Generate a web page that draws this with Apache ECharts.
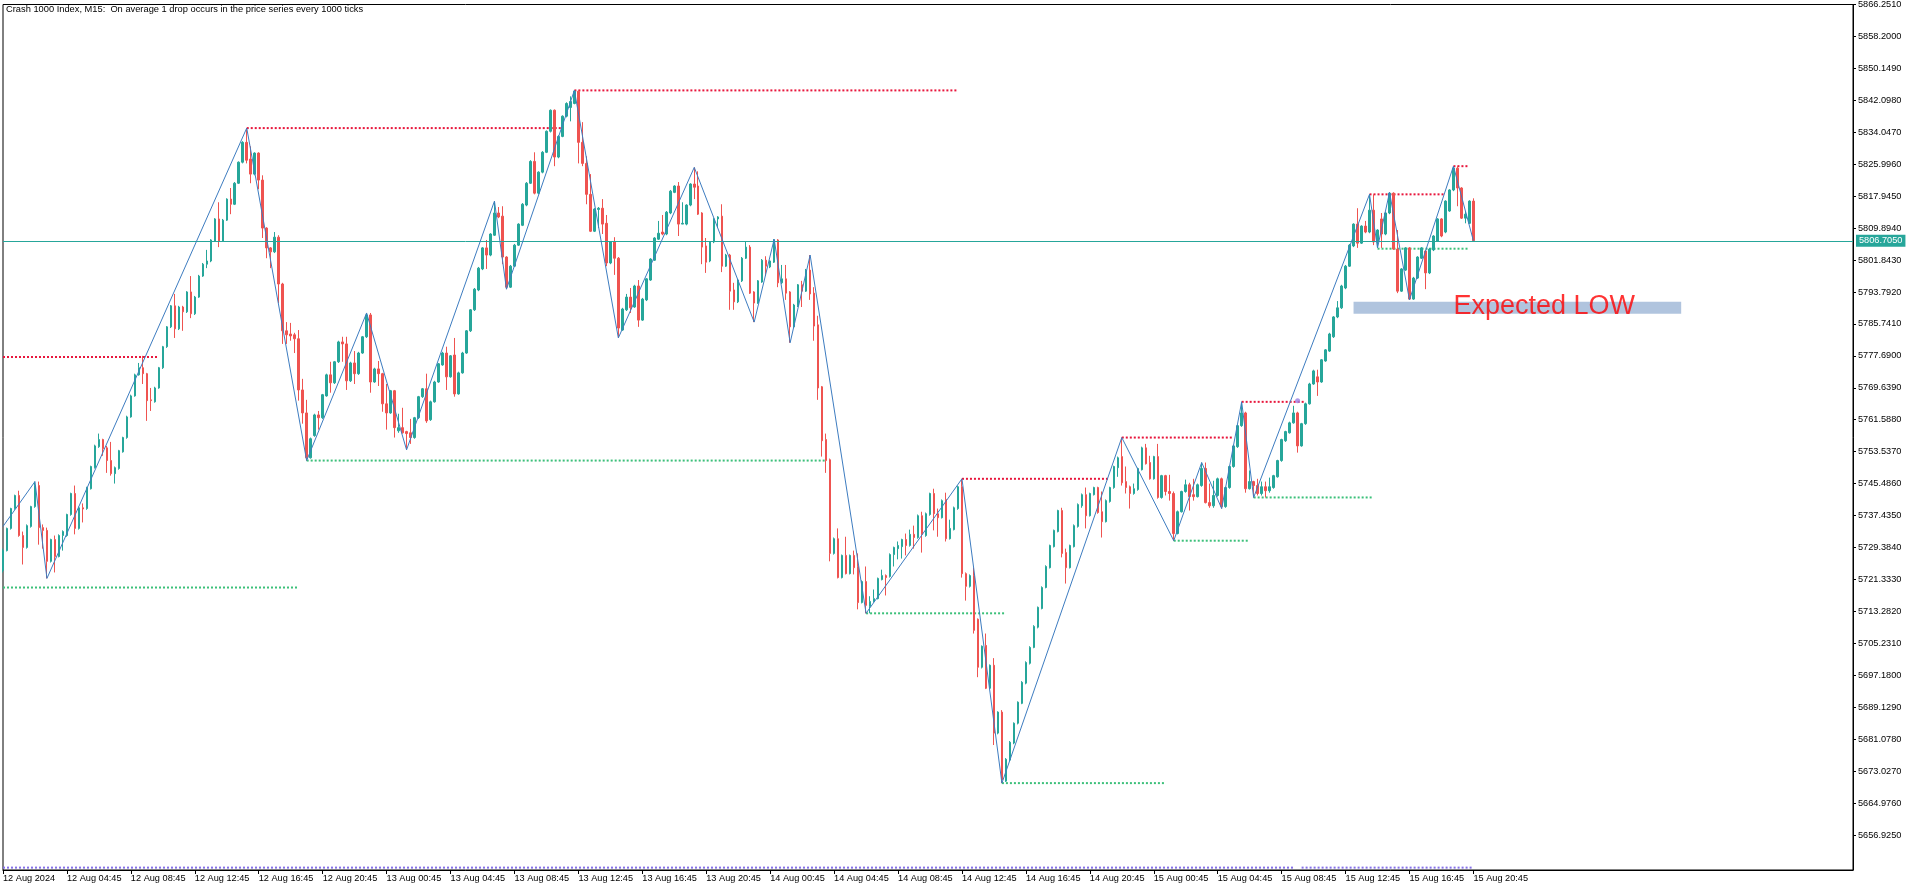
<!DOCTYPE html>
<html><head><meta charset="utf-8">
<script src="https://cdn.jsdelivr.net/npm/echarts@6/dist/echarts.min.js"></script>
<style>html,body{margin:0;padding:0;background:#fff}#c{width:1916px;height:888px}</style>
</head><body><div id="c"></div>
<script>
const chartTitle = 'Crash 1000 Index, M15:  On average 1 drop occurs in the price series every 1000 ticks';
const timeLabels = ['12 Aug 2024','12 Aug 04:45','12 Aug 08:45','12 Aug 12:45','12 Aug 16:45','12 Aug 20:45','13 Aug 00:45','13 Aug 04:45','13 Aug 08:45','13 Aug 12:45','13 Aug 16:45','13 Aug 20:45','14 Aug 00:45','14 Aug 04:45','14 Aug 08:45','14 Aug 12:45','14 Aug 16:45','14 Aug 20:45','15 Aug 00:45','15 Aug 04:45','15 Aug 08:45','15 Aug 12:45','15 Aug 16:45','15 Aug 20:45'];
const priceTicks = [5866.2510,5858.2000,5850.1490,5842.0980,5834.0470,5825.9960,5817.9450,5809.8940,5801.8430,5793.7920,5785.7410,5777.6900,5769.6390,5761.5880,5753.5370,5745.4860,5737.4350,5729.3840,5721.3330,5713.2820,5705.2310,5697.1800,5689.1290,5681.0780,5673.0270,5664.9760,5656.9250];

// candles [open, close, low, high], M15 bars from 12 Aug 00:45
const aug12 = [
[5723.6,5728.6,5723.1,5729.1],[5728.6,5734.2,5728.4,5734.4],[5734.2,5739.2,5733.9,5739.4],[5739.2,5742.5,5738.9,5742.7],[5742.5,5732.4,5732.1,5743.7],
[5732.4,5729.4,5725.1,5733.4],[5729.4,5734.9,5729.1,5735.2],[5734.7,5739.7,5734.4,5739.9],[5739.7,5745.0,5739.4,5746.0],[5745.0,5734.4,5730.1,5746.0],
[5734.4,5733.7,5729.1,5735.2],[5733.7,5725.9,5721.6,5734.4],[5725.9,5731.4,5725.6,5731.6],[5731.4,5727.1,5723.1,5732.4],[5727.1,5732.4,5726.9,5732.7],
[5732.4,5733.4,5728.6,5733.7],[5732.4,5737.7,5732.1,5737.9],[5737.7,5743.0,5737.4,5743.2],[5743.0,5734.2,5732.7,5745.0],[5734.2,5739.4,5733.9,5739.7],
[5739.4,5739.1,5735.7,5740.5],[5739.2,5744.5,5738.9,5744.7],[5744.2,5749.8,5744.0,5750.0],[5749.5,5755.0,5749.3,5755.3],[5754.8,5756.6,5754.5,5758.1],
[5756.6,5754.3,5752.5,5756.8],[5754.5,5751.3,5748.2,5755.0],[5751.3,5748.0,5747.5,5756.0],[5748.0,5749.5,5745.5,5749.8],[5749.3,5753.8,5749.0,5754.0],
[5753.5,5757.1,5753.3,5757.3],[5757.1,5762.3,5756.8,5762.6],[5762.3,5767.6,5762.1,5767.9],[5767.6,5772.9,5767.4,5773.2],[5772.9,5774.7,5772.7,5775.9],
[5774.7,5773.2,5770.6,5777.7],[5773.2,5766.4,5761.3,5773.4],[5766.6,5766.4,5763.8,5769.6],[5766.1,5769.6,5765.9,5769.9],[5769.6,5774.7,5769.4,5774.9],
[5774.7,5780.0,5774.4,5780.2],[5780.0,5785.0,5779.7,5785.2],[5785.0,5790.3,5784.7,5790.5],[5790.3,5784.5,5782.2,5793.3],[5784.5,5790.0,5784.2,5790.3],
[5790.0,5788.8,5784.0,5790.3],[5788.8,5793.8,5788.5,5794.0],[5793.8,5788.3,5787.2,5797.8],[5788.3,5792.5,5788.0,5792.8],[5792.5,5797.8,5792.3,5798.1],
[5797.8,5800.8,5797.6,5801.1],[5800.8,5801.6,5799.8,5804.4],[5801.6,5806.9,5801.3,5807.1],[5806.6,5812.2,5806.4,5812.4],[5812.2,5806.6,5805.1,5816.4],
[5806.6,5811.9,5806.4,5812.2],[5811.9,5817.2,5811.7,5817.4],[5817.2,5815.9,5813.4,5820.0],[5815.9,5821.2,5815.7,5821.5],[5821.2,5826.5,5821.0,5826.7],
[5826.5,5831.5,5826.2,5831.8],[5831.5,5827.0,5826.2,5835.1],[5827.3,5823.5,5821.2,5830.5],[5823.5,5828.8,5823.2,5829.0],[5828.8,5822.0,5819.7,5829.0],
[5822.0,5809.9,5807.4,5823.2],[5809.9,5804.9,5802.3,5810.1],[5804.9,5803.9,5799.8,5805.1],[5803.9,5807.6,5803.6,5808.9],[5807.6,5795.8,5791.0,5808.1],
[5795.8,5784.0,5780.7,5796.1],[5784.0,5783.0,5780.7,5786.2],[5783.2,5782.7,5781.5,5786.0],[5783.0,5782.0,5778.4,5783.5],[5782.0,5769.1,5766.4,5784.2],
[5769.1,5763.3,5760.6,5771.9],[5763.3,5752.0,5751.3,5766.6],[5752.0,5756.8,5751.8,5757.1],[5757.6,5762.8,5757.3,5763.1],[5762.8,5762.1,5759.1,5763.8],
[5762.1,5767.9,5761.8,5768.1],[5767.6,5772.9,5767.4,5773.2],[5772.9,5770.9,5768.4,5776.2],[5770.9,5776.2,5770.6,5776.4],[5776.2,5781.2,5775.9,5781.5],
[5781.2,5780.7,5776.2,5782.5],[5780.7,5771.4,5769.1,5782.5],[5771.4,5775.9,5771.1,5776.2],[5775.9,5773.2,5770.6,5778.9],[5773.2,5778.4,5772.9,5778.7],
[5778.4,5782.5,5778.2,5782.7],[5782.5,5788.0,5782.2,5788.5],[5788.0,5771.1,5768.4,5788.5]
];
const aug13 = [
[5771.1,5774.4,5770.9,5774.7],[5774.4,5773.2,5770.1,5776.4],[5773.2,5765.6,5763.6,5773.4],[5765.6,5763.3,5759.1,5770.6],[5763.3,5768.9,5763.1,5769.1],
[5768.9,5759.6,5757.1,5769.1],[5758.8,5759.6,5758.3,5763.1],[5759.6,5758.3,5758.1,5764.6],[5758.6,5758.1,5754.0,5758.8],[5758.3,5757.1,5755.5,5761.8],
[5757.1,5762.1,5756.8,5762.3],[5762.1,5767.4,5761.8,5767.6],[5767.4,5769.4,5767.1,5769.6],[5769.4,5761.3,5760.8,5773.2],[5761.6,5766.1,5761.3,5766.4],
[5766.1,5771.1,5765.9,5771.4],[5771.1,5775.7,5770.9,5775.9],[5775.4,5778.4,5775.2,5778.7],[5778.4,5772.4,5769.1,5780.0],[5772.4,5777.7,5772.2,5777.9],
[5777.9,5768.1,5767.4,5782.2],[5768.1,5773.4,5767.9,5773.7],[5773.4,5778.4,5773.2,5778.7],[5778.4,5784.0,5778.2,5784.2],[5784.0,5789.3,5783.7,5789.5],
[5789.3,5794.5,5789.0,5794.8],[5794.3,5799.8,5794.0,5800.1],[5799.6,5804.9,5799.3,5805.1],[5804.9,5803.1,5799.6,5806.9],[5803.1,5808.4,5802.8,5808.6],
[5808.1,5813.7,5807.9,5816.7],[5813.7,5812.7,5812.4,5815.2],[5812.9,5802.6,5800.8,5815.4],[5802.6,5795.0,5794.5,5802.8],[5795.0,5800.3,5794.8,5800.6],
[5800.3,5805.6,5800.1,5805.9],[5805.6,5810.9,5805.4,5811.1],[5810.6,5815.9,5810.4,5816.2],[5815.7,5821.2,5815.4,5821.5],[5821.2,5826.7,5821.0,5827.0],
[5826.7,5818.7,5818.4,5829.0],[5818.7,5824.0,5818.4,5824.2],[5824.0,5829.0,5823.7,5829.3],[5829.0,5834.3,5828.8,5834.5],[5834.3,5839.6,5834.0,5839.8],
[5839.6,5827.8,5825.5,5839.8],[5827.8,5833.0,5827.5,5833.3],[5833.0,5838.1,5832.8,5838.3],[5838.1,5841.3,5837.8,5841.6],[5840.3,5841.8,5836.8,5843.1],
[5841.3,5844.4,5841.1,5844.6],[5844.4,5831.5,5826.2,5844.6],[5831.5,5826.2,5825.5,5836.6],[5826.2,5818.4,5815.9,5828.0],[5818.4,5809.1,5808.9,5823.5],
[5809.1,5814.7,5808.9,5814.9],[5814.6,5814.9,5809.9,5815.2],[5814.9,5810.9,5808.4,5817.2],[5811.1,5801.1,5800.3,5813.2],[5801.1,5806.4,5800.8,5806.6],
[5806.4,5802.3,5798.1,5807.6],[5802.3,5784.7,5782.2,5802.6],[5784.2,5789.5,5784.0,5789.8],[5789.3,5792.5,5789.0,5793.3],[5792.5,5789.8,5788.5,5794.8],
[5790.0,5795.3,5789.8,5795.6],[5795.3,5786.7,5785.0,5796.8],[5786.7,5792.0,5786.5,5792.3],[5791.8,5797.1,5791.5,5797.3],[5796.8,5802.1,5796.6,5802.3],
[5801.8,5807.4,5801.6,5807.6],[5807.1,5808.6,5806.9,5811.7],[5808.9,5808.4,5808.1,5813.2],[5808.4,5813.9,5808.1,5814.2],[5813.7,5819.2,5813.4,5819.5],
[5818.9,5820.5,5818.7,5820.7],[5820.5,5810.9,5807.9,5821.5],[5810.9,5811.1,5810.9,5816.4],[5810.9,5815.7,5810.6,5815.9],[5815.7,5821.0,5815.4,5821.2],
[5821.0,5820.2,5817.2,5825.2],[5820.5,5813.4,5813.2,5824.2],[5813.7,5805.1,5800.8,5813.9],[5805.4,5801.3,5798.6,5807.4],[5801.6,5806.4,5801.3,5806.6],
[5806.4,5812.2,5806.1,5812.4],[5812.2,5812.7,5809.9,5812.9],[5812.9,5800.3,5798.8,5815.9],[5800.3,5803.1,5800.1,5803.4],[5803.1,5794.0,5789.3,5803.4],
[5794.3,5791.3,5789.3,5796.1],[5791.3,5796.8,5791.0,5797.1],[5796.6,5802.3,5796.3,5802.6],[5802.3,5805.1,5802.1,5806.6],[5805.1,5793.5,5793.3,5805.6],
[5793.8,5791.0,5786.2,5794.0]
];
const aug14 = [
[5791.0,5796.6,5790.8,5796.8],[5796.3,5801.8,5796.1,5802.1],[5801.8,5800.3,5797.8,5802.8],[5800.1,5801.6,5799.8,5801.8],[5801.3,5806.9,5801.1,5807.1],
[5806.9,5796.1,5795.0,5807.1],[5796.1,5797.1,5795.8,5800.6],[5797.1,5793.5,5791.8,5800.6],[5793.8,5785.0,5781.0,5794.0],[5785.0,5790.5,5784.7,5790.8],
[5790.3,5795.6,5790.0,5795.8],[5795.6,5794.0,5790.0,5796.6],[5794.0,5799.3,5793.8,5799.6],[5799.3,5793.3,5791.8,5803.1],[5793.5,5785.2,5781.5,5795.0],
[5785.5,5769.6,5766.6,5787.8],[5769.9,5756.3,5752.3,5770.1],[5756.6,5751.3,5748.2,5758.1],[5751.5,5727.9,5725.9,5751.8],[5727.9,5731.6,5727.6,5731.9],
[5731.6,5721.8,5721.6,5734.2],[5721.8,5727.4,5721.6,5727.6],[5727.4,5722.8,5722.6,5732.1],[5722.8,5727.4,5722.6,5727.6],[5727.4,5724.3,5722.6,5728.6],
[5724.6,5715.5,5713.8,5727.9],[5715.5,5720.8,5715.3,5721.1],[5720.8,5714.8,5712.8,5724.6],[5714.5,5715.8,5712.8,5717.1],[5715.8,5716.5,5715.5,5718.8],
[5716.5,5721.6,5716.3,5721.8],[5721.3,5722.3,5721.1,5723.8],[5722.3,5721.8,5717.3,5722.6],[5722.1,5727.6,5721.8,5727.9],[5727.6,5729.4,5724.6,5729.6],
[5729.1,5729.9,5726.4,5730.9],[5729.6,5731.4,5726.6,5731.6],[5731.4,5729.9,5727.4,5732.9],[5729.9,5732.7,5729.6,5733.9],[5732.7,5731.9,5729.1,5734.9],
[5731.9,5737.4,5731.6,5737.7],[5737.4,5732.7,5728.1,5738.4],[5732.4,5737.9,5732.1,5738.2],[5737.7,5743.0,5737.4,5743.2],[5743.0,5737.9,5733.7,5744.2],
[5737.9,5736.9,5732.1,5739.2],[5736.9,5741.2,5736.7,5741.5],[5741.5,5731.6,5730.9,5743.2],[5731.6,5734.2,5731.4,5736.4],[5733.9,5739.4,5733.7,5739.7],
[5739.2,5744.7,5738.9,5745.0],[5744.7,5722.8,5721.8,5746.7],[5722.8,5719.6,5716.0,5723.1],[5719.6,5722.3,5719.3,5722.6],[5722.3,5708.5,5707.7,5724.3],
[5711.3,5699.2,5696.7,5711.5],[5699.2,5704.5,5698.9,5704.7],[5704.7,5693.9,5693.7,5707.7],[5693.9,5699.7,5693.7,5699.9],[5699.7,5682.6,5679.6,5701.5],
[5682.6,5687.9,5682.3,5688.1],[5687.9,5670.8,5670.0,5688.4],[5670.5,5676.0,5670.3,5676.3],[5675.8,5680.3,5675.5,5680.6],[5680.1,5685.1,5679.8,5685.3],
[5685.1,5690.4,5684.8,5690.6],[5690.1,5695.4,5689.9,5695.7],[5695.2,5700.4,5694.9,5700.7],[5700.2,5704.2,5699.9,5704.5],[5704.2,5709.5,5704.0,5709.8],
[5709.3,5714.3,5709.0,5714.5],[5714.0,5719.3,5713.8,5719.6],[5719.3,5724.6,5719.1,5724.9],[5724.3,5729.9,5724.1,5730.1],[5729.6,5733.7,5729.4,5733.9],
[5733.4,5738.7,5733.2,5738.9],[5738.7,5727.9,5726.9,5739.4],[5728.1,5724.3,5720.3,5729.1],[5724.3,5729.9,5724.1,5730.1],[5729.6,5734.9,5729.4,5735.2],
[5734.7,5740.2,5734.4,5740.5],[5739.9,5742.7,5739.4,5743.0],[5742.7,5737.4,5734.2,5744.5],[5737.4,5743.0,5737.2,5743.2],[5742.7,5744.5,5742.5,5744.7],
[5744.5,5738.2,5737.9,5744.7],[5738.4,5735.9,5731.9,5743.5],[5735.9,5741.2,5735.7,5741.5],[5741.0,5744.5,5740.7,5744.7],[5744.5,5749.8,5744.2,5750.0],
[5749.5,5752.0,5747.2,5752.3],[5752.3,5745.7,5745.0,5757.1],[5746.0,5744.5,5743.0,5749.8],[5744.7,5743.0,5739.2,5745.0],[5743.0,5744.2,5742.7,5745.5],
[5744.0,5749.3,5743.7,5749.5]
];
const aug15 = [
[5749.0,5754.5,5748.8,5754.8],[5754.5,5750.5,5750.3,5755.5],[5750.8,5746.7,5746.5,5752.5],[5746.7,5752.3,5746.5,5752.5],[5752.3,5742.0,5741.7,5755.5],
[5742.0,5747.5,5741.7,5747.7],[5747.5,5743.5,5742.5,5747.7],[5743.5,5743.0,5741.2,5747.7],[5743.0,5732.9,5731.1,5743.5],[5732.9,5738.4,5732.7,5738.7],
[5738.4,5743.5,5738.2,5743.7],[5743.5,5745.2,5743.2,5746.5],[5745.2,5742.2,5738.7,5745.7],[5742.7,5742.2,5741.2,5746.7],[5742.2,5745.2,5742.0,5745.5],
[5745.0,5749.3,5744.7,5750.8],[5749.3,5740.7,5740.5,5750.8],[5740.7,5739.9,5739.4,5745.5],[5739.9,5742.5,5739.4,5746.2],[5742.5,5746.7,5742.2,5747.0],
[5746.7,5739.7,5739.2,5747.0],[5739.7,5744.5,5739.4,5744.7],[5744.5,5749.8,5744.2,5750.0],[5749.8,5755.0,5749.5,5755.3],[5754.8,5760.1,5754.5,5760.3],
[5760.1,5763.3,5759.8,5766.1],[5763.3,5744.2,5743.2,5763.6],[5744.2,5746.0,5744.0,5748.8],[5746.0,5745.0,5742.0,5746.2],[5745.0,5743.0,5742.5,5746.7],
[5743.0,5744.7,5742.5,5746.0],[5744.7,5743.7,5742.0,5746.0],[5743.7,5744.7,5743.2,5747.0],[5744.5,5747.5,5744.2,5747.7],[5747.2,5751.3,5747.0,5751.5],
[5751.3,5756.6,5751.0,5756.8],[5756.3,5758.6,5756.0,5758.8],[5758.3,5760.8,5758.1,5761.1],[5760.8,5763.3,5760.6,5765.1],[5763.3,5755.0,5753.3,5763.6],
[5755.0,5760.6,5754.8,5760.8],[5760.6,5765.6,5760.3,5765.9],[5765.6,5770.6,5765.4,5770.9],[5770.6,5773.9,5770.4,5774.2],[5772.4,5771.1,5767.6,5774.2],
[5771.1,5776.7,5770.9,5776.9],[5776.4,5779.2,5776.2,5779.4],[5778.9,5783.2,5778.7,5783.5],[5782.5,5787.5,5782.2,5787.7],[5787.5,5789.8,5787.2,5791.5],
[5789.8,5795.3,5789.5,5795.6],[5794.8,5800.3,5794.5,5800.6],[5800.3,5805.6,5800.1,5805.9],[5805.4,5810.9,5805.1,5811.1],[5810.9,5806.1,5804.9,5814.9],
[5806.1,5810.4,5805.9,5810.6],[5810.4,5808.9,5808.6,5811.7],[5808.9,5814.4,5808.6,5818.4],[5814.4,5806.4,5805.6,5818.4],[5806.4,5809.4,5804.9,5809.6],
[5812.2,5808.4,5804.9,5813.7],[5808.4,5813.7,5808.1,5813.9],[5813.7,5818.7,5813.4,5818.9],[5818.7,5804.6,5804.4,5818.9],[5804.6,5794.0,5793.5,5809.4],
[5794.0,5799.6,5793.8,5799.8],[5799.3,5804.9,5799.1,5805.1],[5804.9,5792.0,5791.8,5805.1],[5792.0,5797.3,5791.8,5797.6],[5797.3,5802.6,5797.1,5802.8],
[5802.3,5804.9,5802.1,5805.1],[5804.1,5798.6,5794.5,5804.4],[5798.6,5804.6,5798.3,5804.9],[5804.4,5807.9,5804.1,5808.1],[5806.6,5812.2,5806.4,5812.4],
[5812.2,5807.9,5807.6,5812.4],[5808.9,5816.7,5808.6,5816.9],[5814.2,5819.5,5814.0,5819.7],[5819.5,5825.0,5819.2,5825.5],[5825.0,5820.0,5815.4,5825.5],
[5820.0,5812.4,5812.2,5820.2],[5812.4,5813.4,5811.1,5814.2],[5811.1,5816.7,5810.9,5816.9],[5816.7,5806.7,5806.4,5817.4]
];

const zigzagIdx   = [0, 8, 11, 61, 76, 91, 101, 123, 126, 143, 154, 173, 188, 193, 197, 202, 216, 240, 250, 280, 293, 300, 305, 310, 313, 342, 344, 347, 352, 363, 368];
const zigzagPrice = [5734.7, 5746.0, 5721.6, 5835.1, 5751.3, 5788.5, 5754.0, 5816.7, 5794.5, 5844.6, 5782.2, 5825.2, 5786.2, 5807.1, 5781.0, 5803.1, 5712.8, 5746.7, 5670.0, 5757.1, 5731.1, 5750.8, 5739.2, 5766.1, 5742.0, 5818.4, 5804.9, 5818.9, 5791.8, 5825.5, 5806.7];

// [fromBar, toBar, price]
const resistanceLevels = [[0,39,5777.4],[61,140,5835.1],[143,239,5844.6],[240,277,5746.7],[280,308,5757.1],[310,326,5766.1],[342,361,5818.4],[363,367,5825.5]];
const supportLevels = [[0,74,5719.3],[76,206,5751.3],[216,251,5712.8],[250,291,5670.0],[293,312,5731.1],[313,343,5742.0],[344,367,5804.7]];
const bottomMarker = [[0,323,5648.7],[325,368,5648.7]];
const breakDot = [324, 5766.4];
const lastPrice = 5806.705;
const expectedLow = {fromBar: 338, toBar: 420, top: 5791.35, bottom: 5788.33, labelBar: 362, labelPrice: 5790.0, text: 'Expected LOW'};

const candles = aug12.concat(aug13, aug14, aug15);
const slots = 464;
const mon = ['Jan','Feb','Mar','Apr','May','Jun','Jul','Aug','Sep','Oct','Nov','Dec'];
const categories = [];
const t0 = Date.UTC(2024, 7, 12, 0, 45);
for (let k = 0; k < slots; k++) {
  const d = new Date(t0 + k * 900000);
  const p = n => String(n).padStart(2, '0');
  categories.push(d.getUTCDate() + ' ' + mon[d.getUTCMonth()] + ' ' + p(d.getUTCHours()) + ':' + p(d.getUTCMinutes()));
}
const FONT = 'Liberation Sans';
const UP = '#26a69a', DOWN = '#ef5350';
const isLabelIdx = idx => idx % 16 === 0 && idx / 16 < timeLabels.length;

const segSeries = (levels, color, name) => levels.map(l => ({
  type: 'line', name: name, data: [[l[0], l[2]], [l[1], l[2]]], symbol: 'none', silent: true,
  lineStyle: {color: color, width: 2, type: [2, 2]}, z: 3, animation: false
}));

const chart = echarts.init(document.getElementById('c'), null, {renderer: 'canvas'});
chart.setOption({
  animation: false,
  backgroundColor: '#fff',
  title: {text: chartTitle, left: 6, top: 5, padding: 0,
    textStyle: {fontSize: 9.3, fontWeight: 'normal', color: '#000', fontFamily: FONT}},
  grid: {left: 2, right: 63, top: 3, bottom: 18, show: true, borderColor: '#000', borderWidth: 1, backgroundColor: 'transparent'},
  xAxis: {
    type: 'category', data: categories, boundaryGap: false,
    axisLine: {show: true, lineStyle: {color: '#000', width: 1}},
    axisTick: {show: true, length: 4, interval: isLabelIdx, lineStyle: {color: '#000'}},
    axisLabel: {interval: isLabelIdx, formatter: (v, idx) => timeLabels[idx / 16], align: 'left',
      margin: 4, color: '#000', fontSize: 9.2, fontFamily: FONT},
    splitLine: {show: false}
  },
  yAxis: {
    type: 'value', position: 'right', min: 5648.1, max: 5866.251, scale: true,
    axisLine: {show: true, lineStyle: {color: '#000', width: 1}},
    axisTick: {show: true, length: 3, customValues: priceTicks, lineStyle: {color: '#000'}},
    axisLabel: {customValues: priceTicks, formatter: v => v.toFixed(4), margin: 5, color: '#000', fontSize: 9.2, fontFamily: FONT},
    splitLine: {show: false}
  },
  series: [
    {
      type: 'candlestick', name: 'Crash 1000 Index', data: candles, barWidth: 2,
      itemStyle: {color: UP, color0: DOWN, borderColor: UP, borderColor0: DOWN, borderWidth: 1},
      z: 4,
      markLine: {
        symbol: 'none', silent: true, animation: false,
        data: [{yAxis: lastPrice}],
        lineStyle: {color: UP, width: 1, type: 'solid'},
        label: {show: true, position: 'end', formatter: lastPrice.toFixed(4), backgroundColor: UP, color: '#fff',
          padding: [2, 3, 1, 3], distance: 3, fontSize: 9.2, fontFamily: FONT}
      }
    },
    {
      type: 'line', name: 'ZigZag', data: zigzagIdx.map((x, k) => [x, zigzagPrice[k]]), symbol: 'none',
      lineStyle: {color: '#3d7cc0', width: 1}, z: 5, silent: true
    },
    ...segSeries(resistanceLevels, '#e8163c', 'Resistance'),
    ...segSeries(supportLevels, '#3cc07a', 'Support'),
    ...segSeries(bottomMarker, '#8470e8', 'Marker'),
    {
      type: 'scatter', name: 'Break', data: [breakDot], symbol: 'circle', symbolSize: 5,
      itemStyle: {color: '#9b7fe3'}, z: 6, silent: true,
      markArea: {silent: true, itemStyle: {color: '#b0c4de', opacity: 1},
        data: [[{coord: [expectedLow.fromBar, expectedLow.top]}, {coord: [expectedLow.toBar, expectedLow.bottom]}]]}
    },
    {
      type: 'scatter', name: 'Note', data: [[expectedLow.labelBar, expectedLow.labelPrice]], symbolSize: 0, z: 7, silent: true,
      label: {show: true, position: 'right', distance: 4, formatter: expectedLow.text, color: '#ff0000', fontSize: 27, fontFamily: FONT}
    }
  ]
});
</script>
</body></html>
